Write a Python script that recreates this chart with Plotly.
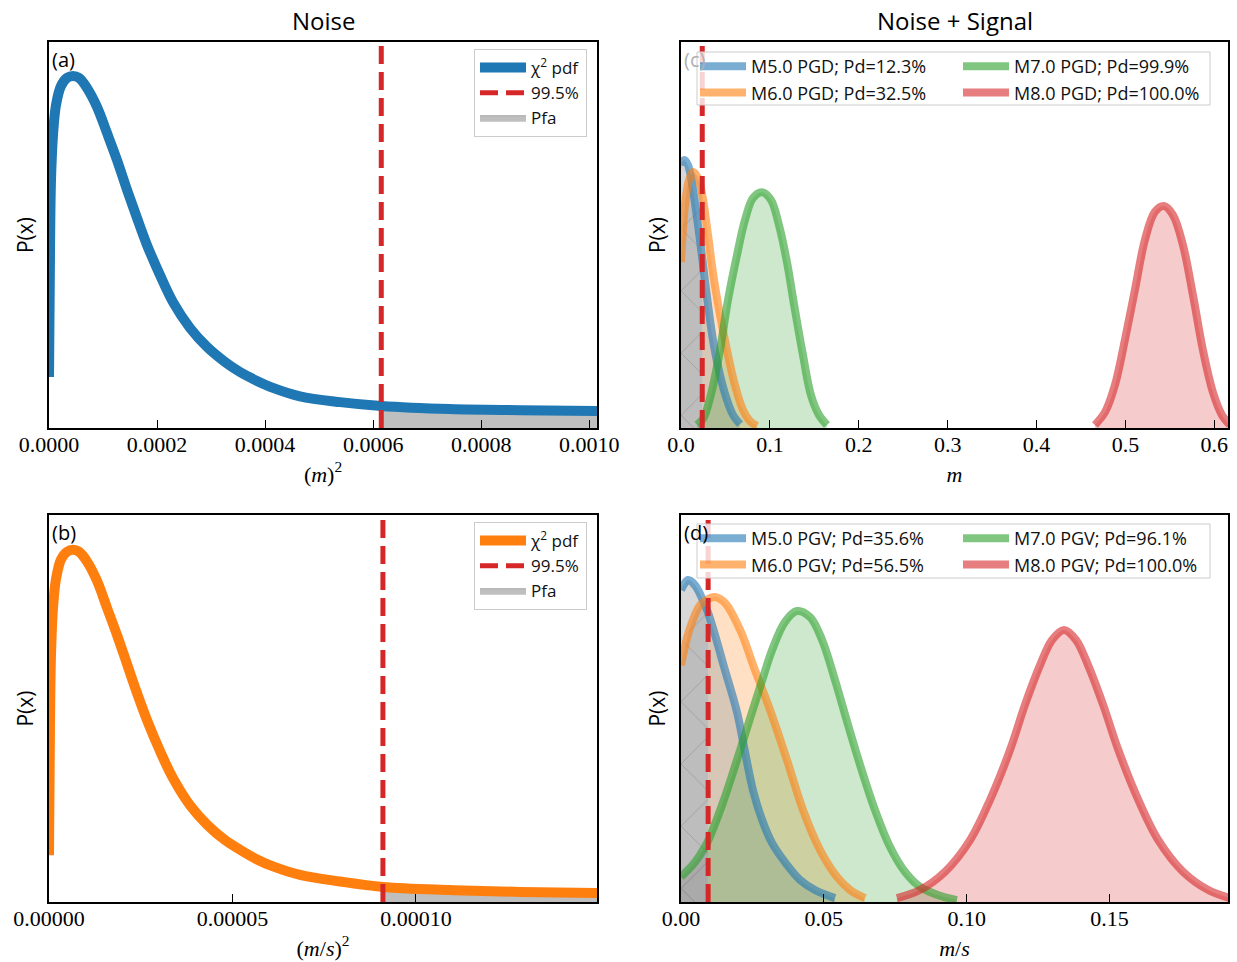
import numpy as np
import plotly.graph_objects as go

# ---------------- noise: chi-square pdf (arbitrary density units) ----------------
pgd_noise_x = [0.0, 0.0000019, 0.0000037, 0.0000074, 0.0000130, 0.0000222, 0.0000333,
               0.0000444, 0.0000555, 0.0000703, 0.0000888, 0.0001074, 0.0001259,
               0.0001444, 0.0001629, 0.0001814, 0.0002055, 0.0002295, 0.0002610,
               0.0002925, 0.0003258, 0.0003535, 0.0003850, 0.0004146, 0.0004646,
               0.0005386, 0.000615, 0.000742, 0.000872, 0.0010143]
pgd_noise_y = [0.132, 0.461, 0.642, 0.759, 0.837, 0.886, 0.907, 0.912, 0.907, 0.881,
               0.832, 0.764, 0.694, 0.617, 0.544, 0.474, 0.396, 0.326, 0.259, 0.210,
               0.171, 0.145, 0.122, 0.104, 0.082, 0.067, 0.057, 0.049, 0.046, 0.044]
pgd_threshold = 0.000615

pgv_noise_x = [0.0, 0.00000027, 0.00000055, 0.00000109, 0.00000191, 0.00000327,
               0.00000491, 0.00000654, 0.00000818, 0.00001035, 0.00001308, 0.00001581,
               0.00001853, 0.00002126, 0.00002398, 0.00002671, 0.00003025, 0.00003379,
               0.00003842, 0.00004306, 0.00004796, 0.00005205, 0.00005668, 0.00006104,
               0.00006840, 0.00007930, 0.000091, 0.00010927, 0.00012835, 0.00014934]
pgv_noise_y = [0.121, 0.46, 0.64, 0.76, 0.835, 0.885, 0.905, 0.91, 0.905, 0.88, 0.83,
               0.76, 0.69, 0.615, 0.54, 0.47, 0.39, 0.32, 0.25, 0.20, 0.16, 0.135, 0.11,
               0.092, 0.07, 0.053, 0.039, 0.031, 0.026, 0.023]
pgv_threshold = 0.000091

# ---------------- noise + signal: amplitude distributions ----------------
pgd_labels = ["M5.0 PGD; Pd=12.3%", "M6.0 PGD; Pd=32.5%",
              "M7.0 PGD; Pd=99.9%", "M8.0 PGD; Pd=100.0%"]
pgd_x = [
    [0.0, 0.0034, 0.0079, 0.0135, 0.0191, 0.0239, 0.0304, 0.036, 0.0439, 0.0517,
     0.0585, 0.0664],
    [0.0, 0.0045, 0.009, 0.0135, 0.0191, 0.0239, 0.0304, 0.036, 0.0439, 0.0517,
     0.0607, 0.0697, 0.0776, 0.0855],
    [0.018, 0.0239, 0.027, 0.0349, 0.0439, 0.0529, 0.063, 0.072, 0.081, 0.0911,
     0.1012, 0.1102, 0.1192, 0.1282, 0.1372, 0.1462, 0.1552, 0.1642],
    [0.4657, 0.477, 0.4882, 0.4994, 0.5107, 0.5219, 0.5332, 0.5433, 0.5534, 0.5647,
     0.5759, 0.5872, 0.5984, 0.6085, 0.6175],
]
pgd_y = [
    [0.681, 0.694, 0.681, 0.617, 0.526, 0.44, 0.319, 0.228, 0.137, 0.073, 0.034, 0.010],
    [0.430, 0.578, 0.642, 0.663, 0.648, 0.604, 0.5, 0.402, 0.293, 0.202, 0.111, 0.047,
     0.018, 0.005],
    [0.008, 0.021, 0.034, 0.098, 0.202, 0.332, 0.448, 0.539, 0.596, 0.611, 0.591, 0.526,
     0.430, 0.306, 0.189, 0.085, 0.034, 0.008],
    [0.008, 0.041, 0.111, 0.228, 0.358, 0.487, 0.560, 0.575, 0.552, 0.474, 0.345, 0.202,
     0.093, 0.034, 0.008],
]
pgd_signal_threshold = 0.0239

pgv_labels = ["M5.0 PGV; Pd=35.6%", "M6.0 PGV; Pd=56.5%",
              "M7.0 PGV; Pd=96.1%", "M8.0 PGV; Pd=100.0%"]
pgv_x = [
    [0.0, 0.00245, 0.0049, 0.0084, 0.0095, 0.0119, 0.0154, 0.0196, 0.0224, 0.0252,
     0.0284, 0.0319, 0.0364, 0.0417, 0.0469, 0.0539],
    [0.0, 0.00315, 0.00665, 0.0095, 0.0119, 0.0154, 0.0207, 0.0259, 0.0312, 0.0371,
     0.0427, 0.0487, 0.0546, 0.0592, 0.0644],
    [0.0, 0.0049, 0.0091, 0.0095, 0.0144, 0.0196, 0.0242, 0.0277, 0.0319, 0.0364,
     0.0406, 0.0452, 0.0494, 0.0539, 0.0585, 0.0627, 0.0679, 0.0732, 0.0784, 0.0837,
     0.0907, 0.0966],
    [0.0756, 0.0836, 0.0924, 0.1012, 0.1082, 0.1152, 0.1204, 0.1257, 0.1299, 0.1341,
     0.1383, 0.1425, 0.1478, 0.1531, 0.1601, 0.1671, 0.1758, 0.1846, 0.1922],
]
pgv_y = [
    [0.806, 0.832, 0.819, 0.767, 0.747, 0.690, 0.599, 0.491, 0.388, 0.289, 0.212, 0.152,
     0.103, 0.057, 0.031, 0.010],
    [0.612, 0.708, 0.767, 0.783, 0.788, 0.773, 0.703, 0.599, 0.496, 0.367, 0.238, 0.134,
     0.065, 0.031, 0.010],
    [0.065, 0.103, 0.152, 0.158, 0.251, 0.367, 0.475, 0.556, 0.651, 0.724, 0.752, 0.736,
     0.677, 0.574, 0.457, 0.354, 0.238, 0.142, 0.078, 0.039, 0.016, 0.005],
    [0.010, 0.031, 0.078, 0.160, 0.264, 0.393, 0.509, 0.612, 0.677, 0.703, 0.677, 0.612,
     0.509, 0.393, 0.264, 0.160, 0.078, 0.031, 0.010],
]
pgv_signal_threshold = 0.0095

# ---------------- styling ----------------
BLUE, ORANGE, GREEN, RED = "#1f77b4", "#ff7f0e", "#2ca02c", "#d62728"
SIGNAL_RGB = [(31, 119, 180), (255, 127, 14), (44, 160, 44), (214, 39, 40)]
SANS = "Open Sans, DejaVu Sans, sans-serif"
SERIF = "Liberation Serif, DejaVu Serif, serif"
DASH = "18px,8px"

W, H = 1237, 962
# panel domains (fractions of the figure)
XL = [49 / W, 597 / W]
XR = [681 / W, 1228 / W]
YT = [1 - 428 / H, 1 - 42 / H]
YB = [1 - 902 / H, 1 - 515 / H]

fig = go.Figure()


def noise_panel(xa, ya, leg, x, y, thr, color):
    x = np.array(x)
    y = np.array(y)
    tail = x >= thr
    fig.add_trace(go.Scatter(
        x=x[tail], y=y[tail], mode="lines", fill="tozeroy",
        fillcolor="#bfbfbf", line=dict(width=1, color="#a6a6a6", shape="spline"),
        name="Pfa", legend=leg, legendrank=3, xaxis=xa, yaxis=ya,
        hoverinfo="skip"))
    fig.add_trace(go.Scatter(
        x=x, y=y, mode="lines", line=dict(color=color, width=10, shape="spline",
                                          smoothing=1.0),
        name="χ<sup>2</sup> pdf", legend=leg, legendrank=1, xaxis=xa, yaxis=ya))
    fig.add_trace(go.Scatter(
        x=[thr, thr], y=[0, 1], mode="lines",
        line=dict(color=RED, width=5, dash=DASH),
        name="99.5%", legend=leg, legendrank=2, xaxis=xa, yaxis=ya))


def signal_panel(xa, ya, legs, xs, ys, labels, thr):
    for xv, yv, (r, g, b) in zip(xs, ys, SIGNAL_RGB):
        xv = np.array(xv)
        yv = np.array(yv)
        left = xv <= thr
        right = xv >= thr
        if left.sum() >= 2:
            fig.add_trace(go.Scatter(
                x=xv[left], y=yv[left], mode="lines", fill="tozeroy",
                fillcolor="rgba(128,128,128,0.3)",
                fillpattern=dict(shape="x", fgcolor="rgba(70,70,70,0.45)",
                                 bgcolor="rgba(128,128,128,0.3)", size=44,
                                 solidity=0.025),
                line=dict(width=0, shape="spline"), showlegend=False,
                xaxis=xa, yaxis=ya, hoverinfo="skip"))
        fig.add_trace(go.Scatter(
            x=xv[right], y=yv[right], mode="lines", fill="tozeroy",
            fillcolor=f"rgba({r},{g},{b},0.24)",
            line=dict(width=0, shape="spline"), showlegend=False,
            xaxis=xa, yaxis=ya, hoverinfo="skip"))
    # two legend columns: (M5, M6) and (M7, M8)
    for i, (xv, yv, (r, g, b), lab) in enumerate(zip(xs, ys, SIGNAL_RGB, labels)):
        fig.add_trace(go.Scatter(
            x=xv, y=yv, mode="lines",
            line=dict(color=f"rgba({r},{g},{b},0.6)", width=8, shape="spline"),
            name=lab, legend=legs[i // 2], xaxis=xa, yaxis=ya))
    fig.add_trace(go.Scatter(
        x=[thr, thr], y=[0, 1], mode="lines",
        line=dict(color=RED, width=5, dash=DASH), showlegend=False,
        xaxis=xa, yaxis=ya))


noise_panel("x", "y", "legend", pgd_noise_x, pgd_noise_y, pgd_threshold, BLUE)
noise_panel("x2", "y2", "legend2", pgv_noise_x, pgv_noise_y, pgv_threshold, ORANGE)
signal_panel("x3", "y3", ("legend3", "legend4"), pgd_x, pgd_y, pgd_labels,
             pgd_signal_threshold)
signal_panel("x4", "y4", ("legend5", "legend6"), pgv_x, pgv_y, pgv_labels,
             pgv_signal_threshold)

tick_font = dict(family=SERIF, size=22, color="black")
title_font = dict(family=SERIF, size=22, color="black")


def xaxis(domain, anchor, rng, tickvals, fmt, title):
    return dict(domain=domain, anchor=anchor, range=rng, tickvals=tickvals,
                tickformat=fmt, ticks="inside", ticklen=8, tickwidth=1,
                tickcolor="black", showline=True, linecolor="black", linewidth=1.5,
                mirror=True, showgrid=False, zeroline=False, tickfont=tick_font,
                ticklabelstandoff=-4, automargin=False,
                title=dict(text=title, font=title_font, standoff=10))


def yaxis(domain, anchor):
    return dict(domain=domain, anchor=anchor, range=[0, 1], showticklabels=False,
                ticks="", showline=True, linecolor="black", linewidth=1.5,
                mirror=True, showgrid=False, zeroline=False, automargin=False,
                title=dict(text="P(x)", font=dict(family=SANS, size=21, color="black"),
                           standoff=8))


left_font = dict(family=SANS, size=17, color="#111")
right_font = dict(family=SANS, size=18, color="#111")
boxed = dict(bgcolor="rgba(255,255,255,0.8)", bordercolor="#cccccc", borderwidth=1,
             font=left_font, yanchor="top", traceorder="normal", itemwidth=46)
bare = dict(bgcolor="rgba(0,0,0,0)", borderwidth=0, font=right_font, yanchor="top",
            xanchor="left", traceorder="normal", itemwidth=46)

fig.update_layout(
    width=W, height=H, margin=dict(l=0, r=0, t=0, b=0, autoexpand=False),
    plot_bgcolor="white", paper_bgcolor="white",
    xaxis=xaxis(XL, "y", [0, 0.0010143],
                [0, 0.0002, 0.0004, 0.0006, 0.0008, 0.0010], ".4f",
                "(<i>m</i>)<sup>2</sup>"),
    yaxis=yaxis(YT, "x"),
    xaxis2=xaxis(XL, "y2", [0, 0.00014934], [0, 0.00005, 0.0001], ".5f",
                 "(<i>m</i>/<i>s</i>)<sup>2</sup>"),
    yaxis2=yaxis(YB, "x2"),
    xaxis3=xaxis(XR, "y3", [0, 0.6154], [0, 0.1, 0.2, 0.3, 0.4, 0.5, 0.6], ".1f",
                 "<i>m</i>"),
    yaxis3=yaxis(YT, "x3"),
    xaxis4=xaxis(XR, "y4", [0, 0.1915], [0, 0.05, 0.10, 0.15], ".2f",
                 "<i>m</i>/<i>s</i>"),
    yaxis4=yaxis(YB, "x4"),
    legend=dict(x=587 / W, xanchor="right", y=1 - 49 / H, **boxed),
    legend2=dict(x=587 / W, xanchor="right", y=1 - 522 / H, **boxed),
    legend3=dict(x=695 / W, y=1 - 48 / H, **bare),
    legend4=dict(x=958 / W, y=1 - 48 / H, **bare),
    legend5=dict(x=695 / W, y=1 - 520 / H, **bare),
    legend6=dict(x=958 / W, y=1 - 520 / H, **bare),
    showlegend=True,
)

# frames shared by the two-column legends of the right-hand panels
for top, bottom in ((52, 105), (524, 578)):
    fig.add_shape(type="rect", xref="paper", yref="paper",
                  x0=697 / W, x1=1210 / W, y0=1 - bottom / H, y1=1 - top / H,
                  fillcolor="rgba(255,255,255,0.8)",
                  line=dict(color="#cccccc", width=1), layer="above")

annotations = [
    dict(text="Noise", x=(XL[0] + XL[1]) / 2, y=1 - 20 / H),
    dict(text="Noise + Signal", x=(XR[0] + XR[1]) / 2, y=1 - 20 / H),
]
for a in annotations:
    a.update(xref="paper", yref="paper", showarrow=False, xanchor="center",
             yanchor="middle", font=dict(family=SANS, size=24, color="black"))

panel_tags = [("(a)", XL[0], YT[1], "black"), ("(b)", XL[0], YB[1], "black"),
              ("(c)", XR[0], YT[1], "#b0b0b0"), ("(d)", XR[0], YB[1], "black")]
for txt, xp, yp, col in panel_tags:
    annotations.append(dict(text=txt, x=xp + 1 / W, y=yp - 2 / H, xref="paper",
                            yref="paper", showarrow=False, xanchor="left",
                            yanchor="top", font=dict(family=SANS, size=20, color=col)))
fig.update_layout(annotations=annotations)

fig.write_html("out.html")
